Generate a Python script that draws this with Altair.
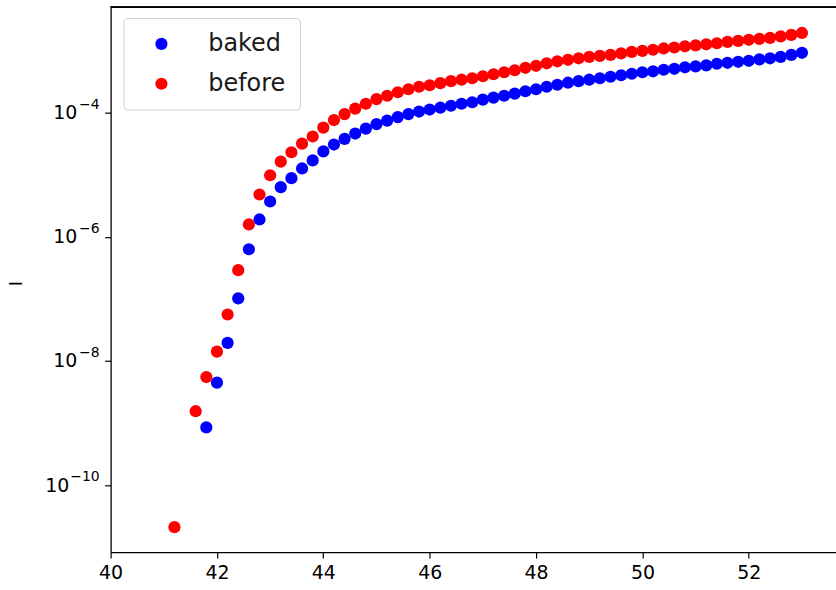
import altair as alt
import pandas as pd

# ---- data ----
x_baked = [41.8, 42.0, 42.2, 42.4, 42.6, 42.8, 43.0, 43.2, 43.4, 43.6, 43.8,
           44.0, 44.2, 44.4, 44.6, 44.8, 45.0, 45.2, 45.4, 45.6, 45.8,
           46.0, 46.2, 46.4, 46.6, 46.8, 47.0, 47.2, 47.4, 47.6, 47.8,
           48.0, 48.2, 48.4, 48.6, 48.8, 49.0, 49.2, 49.4, 49.6, 49.8,
           50.0, 50.2, 50.4, 50.6, 50.8, 51.0, 51.2, 51.4, 51.6, 51.8,
           52.0, 52.2, 52.4, 52.6, 52.8, 53.0]
i_baked = [8.5e-10, 4.47e-9, 1.95e-8, 1.02e-7, 6.3e-7, 1.9e-6, 3.7e-6, 6.3e-6, 8.8e-6, 1.26e-5, 1.70e-5,
           2.37e-5, 3.06e-5, 3.78e-5, 4.60e-5, 5.53e-5,
           6.53e-5, 7.44e-5, 8.47e-5, 9.46e-5, 1.04e-4,
           1.12e-4, 1.20e-4, 1.29e-4, 1.39e-4, 1.47e-4,
           1.62e-4, 1.74e-4, 1.87e-4, 2.02e-4, 2.21e-4,
           2.38e-4, 2.61e-4, 2.81e-4, 3.03e-4, 3.21e-4,
           3.39e-4, 3.58e-4, 3.78e-4, 4.00e-4, 4.23e-4,
           4.47e-4, 4.63e-4, 4.90e-4, 5.08e-4, 5.37e-4,
           5.57e-4, 5.78e-4, 6.12e-4, 6.35e-4, 6.59e-4,
           6.84e-4, 7.22e-4, 7.50e-4, 7.92e-4, 8.50e-4,
           9.20e-4]

x_before = [41.2, 41.6, 41.8, 42.0, 42.2, 42.4, 42.6, 42.8, 43.0, 43.2, 43.4, 43.6, 43.8,
            44.0, 44.2, 44.4, 44.6, 44.8, 45.0, 45.2, 45.4, 45.6, 45.8,
            46.0, 46.2, 46.4, 46.6, 46.8, 47.0, 47.2, 47.4, 47.6, 47.8,
            48.0, 48.2, 48.4, 48.6, 48.8, 49.0, 49.2, 49.4, 49.6, 49.8,
            50.0, 50.2, 50.4, 50.6, 50.8, 51.0, 51.2, 51.4, 51.6, 51.8,
            52.0, 52.2, 52.4, 52.6, 52.8, 53.0]
i_before = [2.1e-11, 1.55e-9, 5.5e-9, 1.41e-8, 5.6e-8, 2.9e-7, 1.58e-6, 4.8e-6, 9.8e-6,
            1.62e-5, 2.3e-5, 3.16e-5, 4.12e-5,
            5.74e-5, 7.59e-5, 9.46e-5, 1.16e-4, 1.39e-4,
            1.65e-4, 1.87e-4, 2.13e-4, 2.38e-4, 2.61e-4,
            2.76e-4, 2.98e-4, 3.21e-4, 3.39e-4, 3.58e-4,
            3.85e-4, 4.15e-4, 4.47e-4, 4.81e-4, 5.27e-4,
            5.68e-4, 6.23e-4, 6.71e-4, 7.09e-4, 7.50e-4,
            7.92e-4, 8.22e-4, 8.53e-4, 9.02e-4, 9.53e-4,
            9.89e-4, 1.03e-3, 1.08e-3, 1.12e-3, 1.17e-3,
            1.21e-3, 1.26e-3, 1.31e-3, 1.38e-3, 1.43e-3,
            1.49e-3, 1.54e-3, 1.60e-3, 1.69e-3, 1.79e-3,
            1.92e-3]

series_names = ["baked", "before"]
series_colors = ["#0000ff", "#ff0000"]
x_ticks = [40, 42, 44, 46, 48, 50, 52]
y_ticks = [1e-10, 1e-8, 1e-6, 1e-4]
y_tick_exponents = ["\u221210", "\u22128", "\u22126", "\u22124"]

assert len(x_baked) == len(i_baked)
assert len(x_before) == len(i_before)

df = pd.concat([
    pd.DataFrame({"V": x_baked, "I": i_baked, "series": "baked"}),
    pd.DataFrame({"V": x_before, "I": i_before, "series": "before"}),
], ignore_index=True)
df_exp = pd.DataFrame({"I": y_ticks, "exp": y_tick_exponents})

FONT = "DejaVu Sans"
W, H = 728, 547

points = alt.Chart(df).mark_circle(size=150, opacity=1).encode(
    x=alt.X("V:Q",
            scale=alt.Scale(domain=[40, 53.64], nice=False, zero=False),
            axis=alt.Axis(values=x_ticks, format="d", title=None, grid=False,
                          labelFontSize=19, labelFont=FONT, labelColor="black",
                          tickColor="black", tickSize=6, tickWidth=1.2,
                          labelPadding=6, domain=True, domainColor="black",
                          domainWidth=1.3, labelFlush=False)),
    y=alt.Y("I:Q",
            scale=alt.Scale(type="log", domain=[8.34e-12, 5.02e-3], nice=False),
            axis=alt.Axis(values=y_ticks, labelExpr="'10'", title="I", grid=False,
                          labelFontSize=19, labelFont=FONT, labelColor="black",
                          tickColor="black", tickSize=6, tickWidth=1.2,
                          labelPadding=alt.condition("datum.value < 1e-9",
                                                     alt.value(36), alt.value(28)),
                          domain=True, domainColor="black", domainWidth=1.3,
                          titleFont=FONT, titleFontSize=18, titleFontWeight="normal",
                          titleColor="black", titleX=-85, titleY=277)),
    color=alt.Color("series:N",
                    scale=alt.Scale(domain=series_names, range=series_colors),
                    legend=alt.Legend(title=None, orient="none", legendX=13, legendY=11,
                                      labelFontSize=24, labelFont=FONT, labelColor="#1a1a1a",
                                      symbolType="circle", symbolSize=150,
                                      symbolStrokeWidth=0, symbolOffset=12,
                                      labelOffset=35, rowPadding=16, padding=14,
                                      strokeColor="#d0d0d0", fillColor="white",
                                      cornerRadius=4)),
    order=alt.Order("series:N", sort="ascending"),
)

exponents = alt.Chart(df_exp).mark_text(
    align="right", baseline="middle", dy=-8, fontSize=14, font=FONT, color="black"
).encode(
    x=alt.value(-11),
    y=alt.Y("I:Q"),
    text="exp:N",
)

top_spine = alt.Chart(df_exp).mark_rule(color="black", strokeWidth=1.3).encode(
    x=alt.value(0), x2=alt.value(W), y=alt.value(0)
)

chart = alt.layer(top_spine, points, exponents).properties(
    width=W,
    height=H,
    autosize=alt.AutoSizeParams(type="none"),
    padding={"left": 111, "top": 6, "right": 0, "bottom": 37},
).configure(
    background="white"
).configure_view(
    strokeWidth=0, fill="white"
)

chart.save("out.html", embed_options={"renderer": "svg", "actions": False})
